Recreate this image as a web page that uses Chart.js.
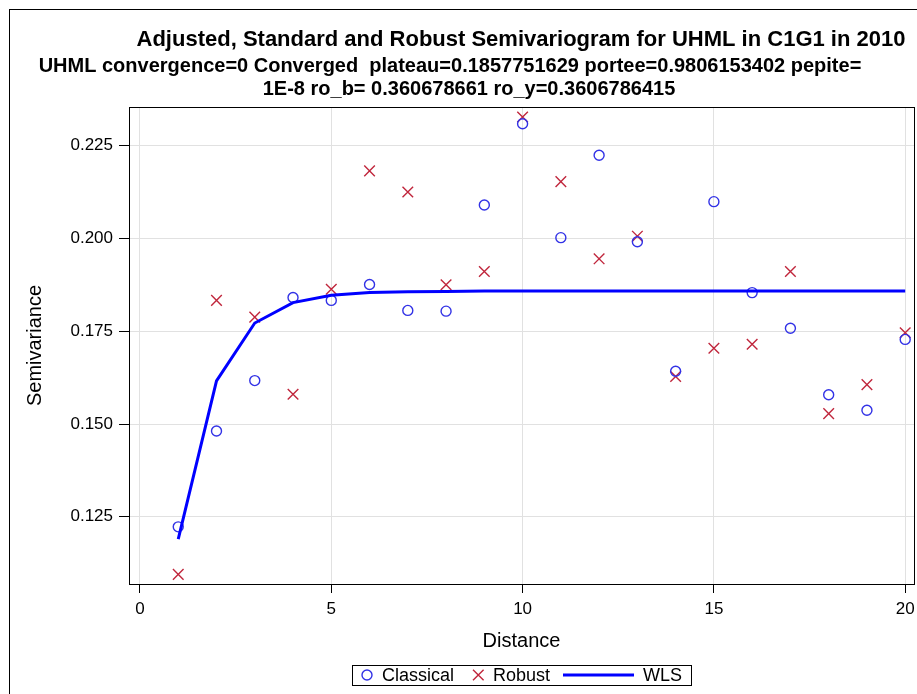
<!DOCTYPE html>
<html>
  <head>
    <meta charset="utf-8">
    <title>Semivariogram UHML C1G1 2010</title>
    <script src="https://cdn.jsdelivr.net/npm/chart.js@4.4.1/dist/chart.umd.min.js"></script>
    <style>
      body { margin: 0; padding: 0; background: white; overflow: hidden; }
      #frame { position: absolute; left: 9px; top: 9px; width: 1000px; height: 1000px; border: 1px solid black; }
      #wrap { position: absolute; left: 0; top: 0; width: 917px; height: 694px; }
    </style>
  </head>
  <body>
    <div id="frame"></div>
    <div id="wrap"><canvas id="chart" width="917" height="694"></canvas></div>

    <script>
      // values
      const distance = [1, 2, 3, 4, 5, 6, 7, 8, 9, 10, 11, 12, 13, 14, 15, 16, 17, 18, 19, 20];
      const classical = [0.1223, 0.1481, 0.1617, 0.1841, 0.1833, 0.1876, 0.1806, 0.1804, 0.2090, 0.2309,
                         0.2002, 0.2224, 0.1991, 0.1642, 0.2099, 0.1854, 0.1758, 0.1579, 0.1537, 0.1728];
      const robust = [0.1095, 0.1833, 0.1788, 0.1580, 0.1863, 0.2182, 0.2125, 0.1875, 0.1911, 0.2327,
                      0.2153, 0.1945, 0.2006, 0.1628, 0.1704, 0.1715, 0.1911, 0.1528, 0.1606, 0.1746];
      const wls = [0.1190, 0.1616, 0.1772, 0.1827, 0.1847, 0.1854, 0.1856, 0.1857, 0.1858, 0.1858,
                   0.1858, 0.1858, 0.1858, 0.1858, 0.1858, 0.1858, 0.1858, 0.1858, 0.1858, 0.1858];
      const xTicks = [0, 5, 10, 15, 20];
      const yTicks = [0.125, 0.150, 0.175, 0.200, 0.225];
      const titleLines = [
        'Adjusted, Standard and Robust Semivariogram for UHML in C1G1 in 2010',
        'UHML convergence=0 Converged  plateau=0.1857751629 portee=0.9806153402 pepite=',
        '1E-8 ro_b= 0.360678661 ro_y=0.3606786415'
      ];

      const FONT = "'Liberation Sans', Arial, sans-serif";
      const BLUE_PT = 'rgb(50,50,230)';
      const RED_PT = 'rgb(192,38,60)';
      const BLUE_LINE = '#0000ff';

      const toXY = (ys) => distance.map((d, i) => ({ x: d, y: ys[i] }));

      const datasets = [
        { label: 'Classical', data: toXY(classical), showLine: false, pointStyle: 'circle',
          pointRadius: 5, pointBorderWidth: 1.4, borderColor: BLUE_PT, backgroundColor: 'transparent', order: 2 },
        { label: 'Robust', data: toXY(robust), showLine: false, pointStyle: 'crossRot',
          pointRadius: 7.5, pointBorderWidth: 1.4, borderColor: RED_PT, backgroundColor: RED_PT, order: 3 },
        { label: 'WLS', data: toXY(wls), showLine: true, pointRadius: 0, borderWidth: 3,
          borderColor: BLUE_LINE, tension: 0, order: 1 }
      ];

      // titles at the positions used by the original output
      const titlePlugin = {
        id: 'titles',
        afterDraw(chart) {
          const ctx = chart.ctx;
          ctx.save();
          ctx.fillStyle = 'black';
          ctx.textAlign = 'center';
          ctx.textBaseline = 'middle';
          ctx.font = 'bold 22px ' + FONT;
          ctx.fillText(titleLines[0], 521, 40);
          ctx.font = 'bold 20px ' + FONT;
          ctx.fillText(titleLines[1], 450, 66);
          ctx.fillText(titleLines[2], 469, 89);
          ctx.restore();
        }
      };

      // box round the plot area
      const boxPlugin = {
        id: 'box',
        afterDatasetsDraw(chart) {
          const a = chart.chartArea, ctx = chart.ctx;
          ctx.save();
          ctx.strokeStyle = 'black';
          ctx.lineWidth = 1;
          ctx.strokeRect(Math.round(a.left) + 0.5, Math.round(a.top) + 0.5,
                         Math.round(a.right - a.left), Math.round(a.bottom - a.top));
          ctx.restore();
        }
      };

      // framed legend under the axis title
      const legendPlugin = {
        id: 'boxLegend',
        afterDraw(chart) {
          const ctx = chart.ctx;
          const x0 = 352, y0 = 665, w = 339, h = 20, cy = y0 + h / 2;
          const ds = chart.data.datasets;
          ctx.save();
          ctx.strokeStyle = 'black';
          ctx.lineWidth = 1;
          ctx.strokeRect(x0 + 0.5, y0 + 0.5, w, h);
          ctx.font = '18px ' + FONT;
          ctx.fillStyle = 'black';
          ctx.textBaseline = 'middle';
          // circle
          ctx.strokeStyle = ds[0].borderColor;
          ctx.lineWidth = 1.4;
          ctx.beginPath(); ctx.arc(367, cy, 5, 0, Math.PI * 2); ctx.stroke();
          ctx.fillText(ds[0].label, 382, cy + 1);
          // cross
          ctx.strokeStyle = ds[1].borderColor;
          ctx.beginPath();
          ctx.moveTo(473, cy - 5.3); ctx.lineTo(483.6, cy + 5.3);
          ctx.moveTo(473, cy + 5.3); ctx.lineTo(483.6, cy - 5.3);
          ctx.stroke();
          ctx.fillText(ds[1].label, 493, cy + 1);
          // line
          ctx.strokeStyle = ds[2].borderColor;
          ctx.lineWidth = 3;
          ctx.beginPath(); ctx.moveTo(563, cy); ctx.lineTo(634, cy); ctx.stroke();
          ctx.fillText(ds[2].label, 643, cy + 1);
          ctx.restore();
        }
      };

      new Chart(document.getElementById('chart'), {
        type: 'scatter',
        data: { datasets },
        options: {
          responsive: false,
          animation: false,
          devicePixelRatio: 1,
          layout: { autoPadding: false, padding: { top: 107, left: 19, right: 3, bottom: 37 } },
          plugins: { legend: { display: false }, tooltip: { enabled: false } },
          elements: { point: { hitRadius: 0 } },
          scales: {
            x: {
              type: 'linear', min: -0.287, max: 20.23,
              afterBuildTicks: (s) => { s.ticks = xTicks.map(v => ({ value: v })); },
              afterFit: (s) => { s.height = 73; s.paddingLeft = 0; s.paddingRight = 0; },
              ticks: { color: 'black', font: { family: FONT, size: 17 }, padding: 6, maxRotation: 0,
                       callback: (v) => String(v) },
              grid: { color: '#e1e1e1', lineWidth: 1, tickColor: 'black', tickLength: 9 },
              border: { color: 'black', width: 1 },
              title: { display: true, text: 'Distance', color: 'black', font: { family: FONT, size: 20 } }
            },
            y: {
              type: 'linear', min: 0.1069, max: 0.2354,
              afterBuildTicks: (s) => { s.ticks = yTicks.map(v => ({ value: v })); },
              afterFit: (s) => { s.width = 110; s.paddingTop = 0; s.paddingBottom = 0; },
              ticks: { color: 'black', font: { family: FONT, size: 17 }, padding: 6,
                       callback: (v) => v.toFixed(3) },
              grid: { color: '#e1e1e1', lineWidth: 1, tickColor: 'black', tickLength: 10 },
              border: { color: 'black', width: 1 },
              title: { display: true, text: 'Semivariance', color: 'black', font: { family: FONT, size: 20 } }
            }
          }
        },
        plugins: [boxPlugin, titlePlugin, legendPlugin]
      });
    </script>
  </body>
</html>
